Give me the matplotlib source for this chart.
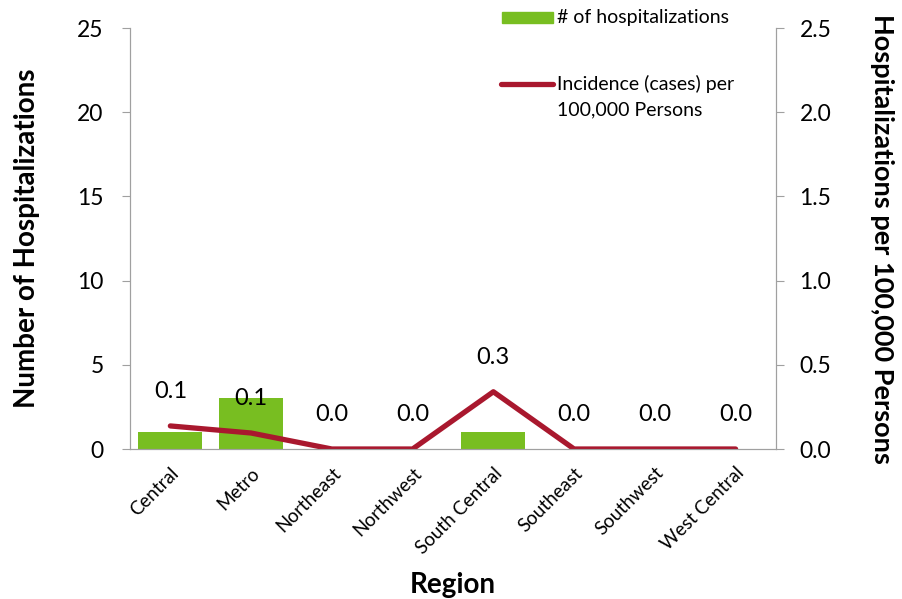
import numpy as np
import matplotlib
matplotlib.use("Agg")
import matplotlib.pyplot as plt
from matplotlib.patches import Rectangle
from matplotlib.lines import Line2D

plt.rcParams['font.family'] = ['Lato', 'DejaVu Sans']

regions = ['Central', 'Metro', 'Northeast', 'Northwest', 'South Central',
           'Southeast', 'Southwest', 'West Central']
hospitalizations = [1, 3, 0, 0, 1, 0, 0, 0]
incidence = [0.137, 0.095, 0.0, 0.0, 0.34, 0.0, 0.0, 0.0]

green = '#78BE21'
red = '#A9182E'
gray = '#A0A0A0'

fig = plt.figure(figsize=(9.02, 5.99), dpi=100)
ax = fig.add_axes([0.1441, 0.2504, 0.7162, 0.7028])
ax2 = ax.twinx()

x = np.arange(len(regions))
ax.bar(x, hospitalizations, width=0.79, color=green, zorder=1)
ax2.plot(x, incidence, color=red, lw=3.8, solid_capstyle='round', solid_joinstyle='round')

for xi, v in zip(x, incidence):
    ax2.annotate('{:.1f}'.format(v), (xi, v), xytext=(0, 25), textcoords='offset points',
                 ha='center', va='center', fontsize=17)

ax.set_xlim(-0.5, len(regions) - 0.5)
ax.set_ylim(0, 25)
ax.set_yticks(range(0, 26, 5))
ax2.set_ylim(0, 2.5)
ax2.set_yticks(np.arange(0, 2.51, 0.5))
ax2.set_yticklabels(['{:.1f}'.format(t) for t in np.arange(0, 2.51, 0.5)])

ax.set_xticks(x)
ax.set_xticklabels(regions, rotation=45, ha='right', rotation_mode='anchor', fontsize=13.5)
ax.tick_params(axis='x', length=0, pad=11)
ax.tick_params(axis='y', labelsize=16.5, length=6, color=gray, pad=13)
ax2.tick_params(axis='y', labelsize=16.5, length=6, color=gray, pad=11)

for a in (ax, ax2):
    a.spines['top'].set_visible(False)
    for s in ('left', 'right', 'bottom'):
        a.spines[s].set_color(gray)

ax.set_ylabel('Number of Hospitalizations', fontsize=20, fontweight='bold', labelpad=27)
ax2.set_ylabel('Hospitalizations per 100,000 Persons', fontsize=19.5, fontweight='bold',
               rotation=270, labelpad=45)
ax.set_xlabel('Region', fontsize=20, fontweight='bold', labelpad=11)

# legend drawn in figure pixels
W, H = 902, 599
fig.add_artist(Rectangle((502 / W, 1 - 23 / H), 51 / W, 11 / H, transform=fig.transFigure,
                         color=green))
fig.text(557 / W, 1 - 17 / H, '# of hospitalizations', fontsize=14, va='center', ha='left')
fig.add_artist(Line2D([501 / W, 553 / W], [1 - 84 / H, 1 - 84 / H], transform=fig.transFigure,
                      color=red, lw=3.8, solid_capstyle='round'))
fig.text(557 / W, 1 - 84 / H, 'Incidence (cases) per', fontsize=14, va='center', ha='left')
fig.text(557 / W, 1 - 110 / H, '100,000 Persons', fontsize=14, va='center', ha='left')

fig.savefig('out.png', dpi=100)
